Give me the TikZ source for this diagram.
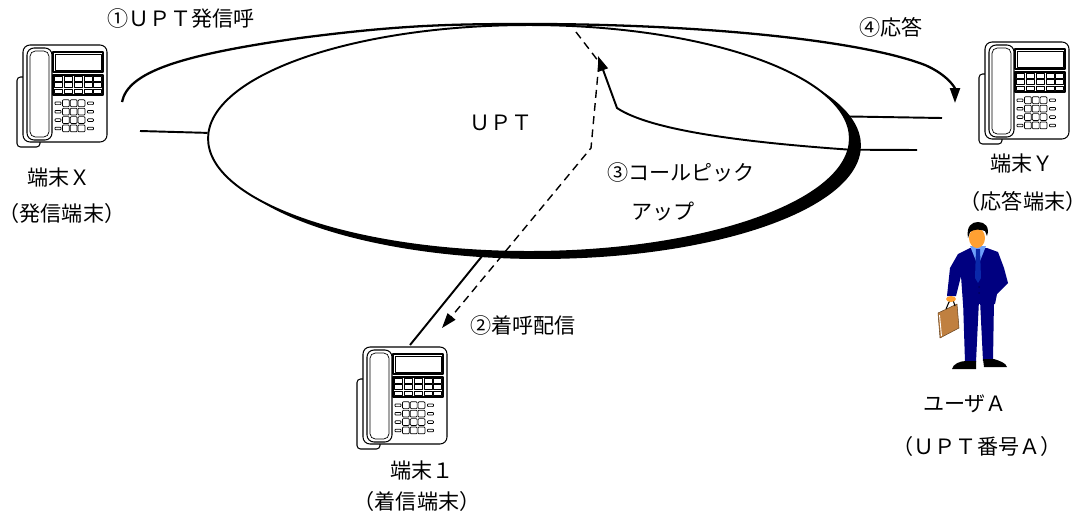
\documentclass[tikz,border=0pt]{standalone}
\usepackage{fontspec}
\setmainfont{Noto Sans CJK JP}
\usepackage{xcolor}
\usepackage{tikz}
\usetikzlibrary{arrows.meta, positioning, shapes.geometric, shadows}

\definecolor{suit}{RGB}{0,0,128}
\definecolor{shirt}{RGB}{110,160,250}
\definecolor{skin}{RGB}{255,160,50}
\definecolor{necktie}{RGB}{10,40,170}
\definecolor{bag}{RGB}{192,128,64}

% desk telephone, drawn from the top left corner of its cord
\tikzset{
  phone/.pic={
    % cord
    \draw[line width=0.6pt, rounded corners=2pt] (14,32) -- (1,32) -- (1,102) -- (24,102) -- (24,94);
    % body
    \draw[line width=0.6pt, fill=white, rounded corners=4pt] (7,0) rectangle (91,97);
    % handset
    \draw[line width=0.6pt, fill=white, rounded corners=4pt] (11,3) rectangle (36,95);
    \draw[line width=0.4pt, rounded corners=3pt] (14,6) rectangle (33,92);
    % display
    \draw[line width=0.6pt] (37,7) rectangle (87,27);
    \draw[line width=0.4pt] (39,9) rectangle (85,25);
    % function keys
    \draw[line width=0.6pt] (37,30) rectangle (87,50);
    \foreach \c in {0,...,4}
      \foreach \r in {0,...,2}
        \draw[line width=0.4pt] ({38.5+\c*9.8},{31.5+\r*6.2}) rectangle ++(8,4.6);
    % dial keys
    \foreach \r in {0,...,3} {
      \draw[line width=0.4pt, rounded corners=0.4pt] (39,{57+\r*8.4}) rectangle ++(6,2.6);
      \foreach \c in {0,1,2}
        \draw[line width=0.4pt, rounded corners=0.5pt] ({46.5+\c*7.8},{54.8+\r*8.4}) rectangle ++(6.8,6.8);
      \draw[line width=0.4pt, rounded corners=0.4pt] (71.5,{57+\r*8.4}) rectangle ++(6,2.6);
    }
  }
}

\begin{document}
\begin{tikzpicture}[x=0.02cm, y=-0.02cm, line join=round,
    lbl/.style={font=\fontsize{12}{14}\selectfont, inner sep=0pt},
    link/.style={line width=1.1pt},
    callarrow/.style={line width=1.3pt, -{Triangle[length=0.3cm, width=0.2cm]}}]
    \useasboundingbox (0,0) rectangle (1086,518);

    % UPT network
    \node[ellipse, draw, line width=1.1pt, fill=white, minimum width=12.84cm, minimum height=4.54cm,
          drop shadow={shadow xshift=0.22cm, shadow yshift=-0.14cm, fill=black, opacity=1}] (upt) at (529,138.5) {};
    \node[lbl] (uptname) at (501,123) {ＵＰＴ};

    % Terminal X
    \pic at (16,45) {phone};
    \node[lbl] (termx) at (59,177) {端末Ｘ};
    \node[lbl] (termxrole) at (62,213) {（発信端末）};
    \coordinate (xport) at (140,131);
    \draw[link] (xport) -- (upt.179);

    % Terminal Y
    \pic at (978,42) {phone};
    \node[lbl] (termy) at (1022,163) {端末Ｙ};
    \node[lbl] (termyrole) at (1023,201) {（応答端末）};
    \coordinate (yport) at (942,118);
    \draw[link] (upt.4) -- (yport);

    % Terminal 1
    \pic at (356,347) {phone};
    \node[lbl] (termone) at (422,470) {端末１};
    \node[lbl] (termonerole) at (417,501) {（着信端末）};
    \coordinate (oneport) at (410,345);
    \draw[link] (oneport) -- (upt.249);

    % (1) outgoing call, (4) answer
    \coordinate (xcall) at (122,102);
    \coordinate (yans) at (955,103);
    \draw[callarrow] (xcall) .. controls (128,72) and (180,55) .. (300,38)
        .. controls (400,25) and (450,24) .. (530,24)
        .. controls (700,24) and (860,40) .. (925,65)
        .. controls (948,75) and (955,88) .. (yans);
    \node[lbl] (call) at (181,18) {①ＵＰＴ発信呼};
    \node[lbl] (answer) at (891,27) {④応答};

    % (2) incoming call delivered to terminal 1
    \coordinate (relay) at (576,32);
    \coordinate (deliver) at (442,328);
    \draw[line width=0.8pt, dash pattern=on 4.5pt off 3pt, -{Triangle[length=0.3cm, width=0.2cm]}]
        (relay) -- (599,62) -- (591,148) -- (deliver);
    \node[lbl] (delivery) at (523,325) {②着呼配信};

    % (3) call pickup from terminal Y
    \coordinate (ycall) at (917,150);
    \coordinate (pick) at (598,56);
    \draw[callarrow, line width=1.1pt] (ycall) -- (upt.358) .. controls (740,142) and (650,130) .. (617,108) -- (pick);
    \node[lbl] (pickup) at (681,172) {③コールピック};
    \node[lbl] (pickup2) at (663,212) {アップ};

    % User A
    \fill[suit] (963,300) -- (979,300) -- (976,362) -- (965,362) -- cycle;
    \fill[suit] (980,300) -- (994,300) -- (993,361) -- (983,361) -- cycle;
    \fill[black] (952,369) .. controls (953,364) and (960,361) .. (966,361) -- (976,361) -- (976,369) -- cycle;
    \fill[black] (983,359) -- (994,359) .. controls (1000,361) and (1006,363) .. (1007,367) -- (984,367) -- cycle;
    \fill[suit] (958,254) -- (970,248) -- (987,248) -- (998,252) -- (1004,268) -- (1008,283) -- (997,294)
        -- (995,304) -- (963,304) -- (961,276) -- (956,296) -- (947,296) -- (950,268) -- cycle;
    \fill[shirt] (970,246) -- (986,246) -- (978,266) -- cycle;
    \fill[necktie] (976,249) -- (980,249) -- (981,278) -- (978,283) -- (975,278) -- cycle;
    \fill[suit!70!black] (979,287) circle [radius=1] (979,293) circle [radius=1];
    \fill[skin] (977,238) ellipse [x radius=8, y radius=10];
    \fill[black] (968,238) .. controls (966,226) and (972,222) .. (978,222)
        .. controls (985,222) and (990,227) .. (987,236) -- (985,231)
        .. controls (980,229) and (974,229) .. (970,232) -- cycle;
    \filldraw[fill=bag, draw=bag!55!black, line width=0.3pt] (938,313) -- (957,304) -- (959,328) -- (940,338) -- cycle;
    \draw[white, line width=0.5pt] (939.5,315) -- (941.5,336);
    \draw[black, line width=0.6pt] (946,309) -- (949,302) -- (953,300) -- (955,306);
    \fill[skin] (951,299) ellipse [x radius=5, y radius=3];
    \node[lbl] (user) at (965,404) {ユーザＡ};
    \node[lbl] (usernum) at (977,446) {（ＵＰＴ番号Ａ）};
\end{tikzpicture}
\end{document}
